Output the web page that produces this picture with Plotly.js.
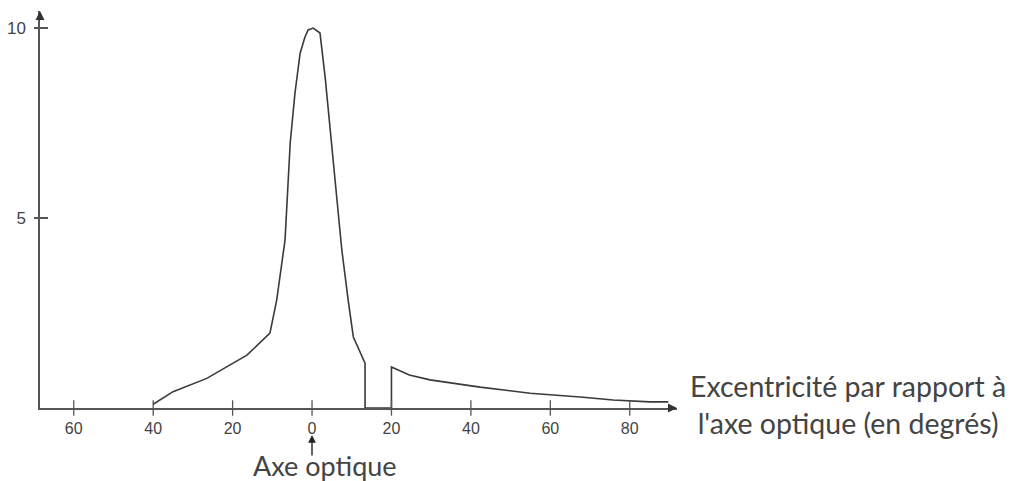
<!DOCTYPE html>
<html>
<head>
<meta charset="utf-8">
<script src="https://cdn.plot.ly/plotly-3.0.1.min.js"></script>
<style>html,body{margin:0;padding:0;background:#fff;}#chart{width:1025px;height:481px;}</style>
</head>
<body>
<div id="chart"></div>
<script>
// Eccentricity (degrees; negative = left side of optical axis)
const eccentricity = [-40, -35, -26.5, -16.4, -10.6, -8.9, -6.8, -6.3, -5.5, -4.3, -3.0, -1.8, -1.0, 0.3, 2.0, 3.3, 4.5, 5.8, 7.5, 9.1, 10.4, 13.35, 13.35, 20, 20, 24.5, 29.7, 42.3, 54.9, 67.5, 75.8, 85.1, 89.7];
// Visual acuity values
const acuity = [0.1, 0.43, 0.78, 1.39, 1.97, 2.84, 4.42, 5.5, 6.97, 8.29, 9.34, 9.76, 9.95, 10.0, 9.87, 8.71, 7.39, 5.9, 4.16, 2.84, 1.87, 1.18, 0, 0, 1.08, 0.87, 0.74, 0.55, 0.39, 0.29, 0.21, 0.16, 0.16];
// Tick positions and labels
const xTickVals = [-60, -40, -20, 0, 20, 40, 60, 80];
const xTickText = ['60', '40', '20', '0', '20', '40', '60', '80'];
const yTickVals = [5, 10];
const yTickText = ['5', '10'];
const xLabel = "Excentricité par rapport à<br>l'axe optique (en degrés)";
const axisLabel = 'Axe optique';

const xRange = [-68.5, 91.9];
const yRange = [0, 10.45];
const axisCol = '#555';
const traces = [
  {x: eccentricity, y: acuity, mode: 'lines', line: {color: '#3a3a3a', width: 1.6}, hoverinfo: 'skip', showlegend: false},
  // tick marks crossing the x axis
  {x: xTickVals, y: xTickVals.map(() => yRange[0]), mode: 'markers', cliponaxis: false,
   marker: {symbol: 'line-ns-open', size: 11, color: axisCol, line: {width: 1.3, color: axisCol}}, hoverinfo: 'skip', showlegend: false},
  {x: eccentricity, y: acuity, xaxis: 'x2', yaxis: 'y2', mode: 'lines', line: {width: 0.1, color: 'rgba(0,0,0,0)'}, hoverinfo: 'skip', showlegend: false}
];

const tickFont = {family: 'Liberation Sans, Arial, sans-serif', size: 16, color: '#444'};
const layout = {
  width: 1025, height: 481,
  margin: {l: 40, r: 348, t: 11, b: 73},
  paper_bgcolor: '#fff', plot_bgcolor: '#fff',
  showlegend: false,
  xaxis: {range: xRange, showgrid: false, zeroline: false, showline: true, linecolor: axisCol, linewidth: 1.6,
          tickvals: xTickVals, ticktext: xTickText, ticks: 'outside', ticklen: 5, tickcolor: 'rgba(0,0,0,0)', tickwidth: 1,
          tickfont: tickFont, fixedrange: true},
  yaxis: {range: yRange, showgrid: false, zeroline: false, showline: true, linecolor: axisCol, linewidth: 1.6,
          tickvals: yTickVals, ticktext: yTickText, ticks: 'outside', ticklen: 4, tickcolor: axisCol, tickwidth: 1.3,
          tickfont: {family: 'Liberation Sans, Arial, sans-serif', size: 17, color: '#444'}, ticklabelstandoff: 5, fixedrange: true},
  xaxis2: {overlaying: 'x', range: xRange, side: 'bottom', anchor: 'y2', showgrid: false, zeroline: false, showline: false,
           showticklabels: false, ticks: '', fixedrange: true},
  yaxis2: {overlaying: 'y', range: yRange, side: 'left', anchor: 'x2', showgrid: false, zeroline: false, showline: false,
           tickvals: yTickVals, ticktext: yTickText, ticks: 'inside', ticklen: 8, tickcolor: axisCol, tickwidth: 1.3, showticklabels: false, fixedrange: true},
  annotations: [
    // x-axis arrowhead
    {xref: 'paper', yref: 'paper', x: 1.0, y: 0, ax: -10, ay: 0, axref: 'pixel', ayref: 'pixel', text: '', showarrow: true,
     arrowhead: 2, arrowsize: 1.2, arrowwidth: 1.5, arrowcolor: '#333'},
    // y-axis arrowhead
    {xref: 'paper', yref: 'paper', x: 0, y: 1.0, ax: 0, ay: 10, axref: 'pixel', ayref: 'pixel', text: '', showarrow: true,
     arrowhead: 2, arrowsize: 1.2, arrowwidth: 1.5, arrowcolor: '#333'},
    // optical axis arrow
    {xref: 'paper', yref: 'paper', x: (312 - 40) / 637, y: -27 / 397, ax: 0, ay: 22, text: '', showarrow: true,
     arrowhead: 2, arrowsize: 1.1, arrowwidth: 1.4, arrowcolor: '#222'},
    {xref: 'paper', yref: 'paper', x: (325 - 40) / 637, y: -57 / 397, text: axisLabel, showarrow: false, xanchor: 'center', yanchor: 'middle',
     font: {family: 'Lato, sans-serif', size: 27, color: '#444'}},
    {xref: 'paper', yref: 'paper', x: (848 - 40) / 637, y: 4 / 397, text: xLabel, showarrow: false, xanchor: 'center', yanchor: 'middle',
     align: 'center', font: {family: 'Lato, sans-serif', size: 28.5, color: '#444'}}
  ]
};

Plotly.newPlot('chart', traces, layout, {displayModeBar: false, staticPlot: true});
</script>
</body>
</html>
